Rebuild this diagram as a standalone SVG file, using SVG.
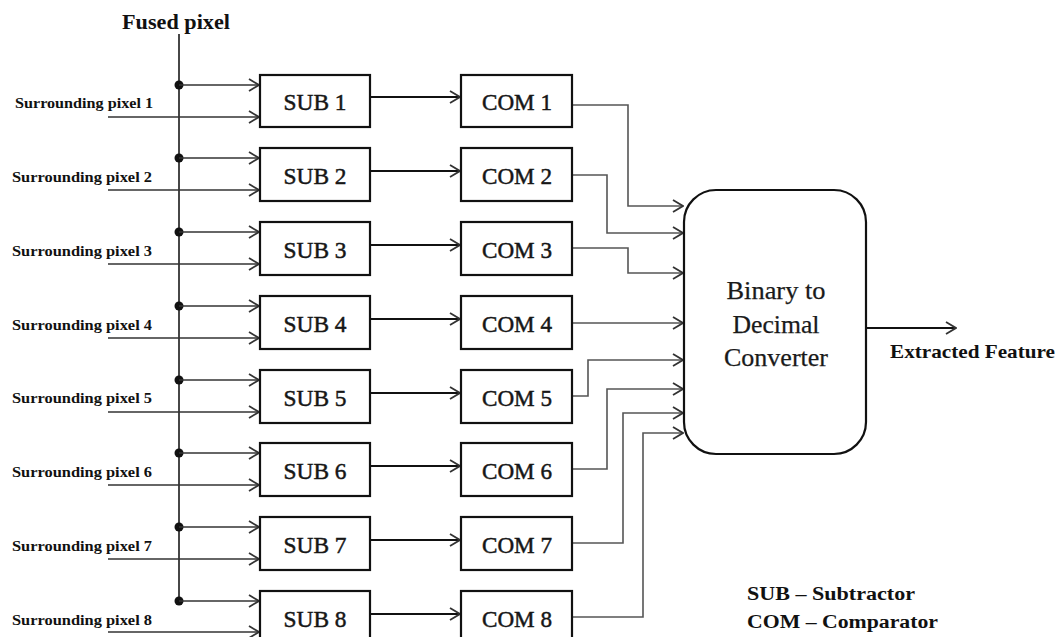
<svg xmlns="http://www.w3.org/2000/svg" width="1060" height="637" viewBox="0 0 1060 637">
<style>
.box{fill:#fff;stroke:#111;stroke-width:2.2}
.bt{font-family:"Liberation Serif","Times New Roman","DejaVu Serif",serif;font-size:24px;fill:#161616;text-anchor:middle;stroke:#161616;stroke-width:0.5}
.ct{font-family:"Liberation Serif","Times New Roman","DejaVu Serif",serif;font-size:25px;fill:#1a1a1a;text-anchor:middle;stroke:#1a1a1a;stroke-width:0.25}
.lbl{font-family:"Liberation Serif","Times New Roman",serif;font-size:15px;font-weight:bold;fill:#111}
.bold{font-family:"Liberation Serif","Times New Roman",serif;font-weight:bold;fill:#111}
.in{fill:none;stroke:#333;stroke-width:1.6;marker-end:url(#ah)}
.sc{fill:none;stroke:#111;stroke-width:2;marker-end:url(#ah)}
.cc{fill:none;stroke:#555;stroke-width:1.6;marker-end:url(#ah)}
.dot{fill:#111}
</style>
<defs>
<marker id="ah" markerUnits="userSpaceOnUse" markerWidth="12" markerHeight="14" refX="11" refY="7" orient="auto">
<path d="M1,1 L11,7 L1,13" fill="none" stroke="#333" stroke-width="1.8"/>
</marker>
</defs>
<rect width="1060" height="637" fill="#fff"/>
<text class="bold" x="122" y="29" font-size="20" textLength="108" lengthAdjust="spacingAndGlyphs">Fused pixel</text>
<g id="connectors">
<line x1="179" y1="34" x2="179" y2="602" stroke="#333" stroke-width="1.8"/>
<circle class="dot" cx="179" cy="85" r="4.5"/><circle class="dot" cx="179" cy="158" r="4.5"/><circle class="dot" cx="179" cy="232" r="4.5"/><circle class="dot" cx="179" cy="306" r="4.5"/><circle class="dot" cx="179" cy="380" r="4.5"/><circle class="dot" cx="179" cy="453" r="4.5"/><circle class="dot" cx="179" cy="527" r="4.5"/><circle class="dot" cx="179" cy="601" r="4.5"/>
<path class="in" d="M179,85 H259"/><path class="in" d="M108,117 H259"/>
<path class="in" d="M179,158 H259"/><path class="in" d="M108,190 H259"/>
<path class="in" d="M179,232 H259"/><path class="in" d="M108,264 H259"/>
<path class="in" d="M179,306 H259"/><path class="in" d="M108,338 H259"/>
<path class="in" d="M179,380 H259"/><path class="in" d="M108,412 H259"/>
<path class="in" d="M179,453 H259"/><path class="in" d="M108,485 H259"/>
<path class="in" d="M179,527 H259"/><path class="in" d="M108,559 H259"/>
<path class="in" d="M179,601 H259"/><path class="in" d="M108,632 H259"/>
<path class="sc" d="M370,97 H460"/>
<path class="sc" d="M370,171 H460"/>
<path class="sc" d="M370,245 H460"/>
<path class="sc" d="M370,319 H460"/>
<path class="sc" d="M370,393 H460"/>
<path class="sc" d="M370,466 H460"/>
<path class="sc" d="M370,540 H460"/>
<path class="sc" d="M370,614 H460"/>
<path class="cc" d="M572,105 H628 V206 H683"/>
<path class="cc" d="M572,175 H607 V233 H683"/>
<path class="cc" d="M572,248 H628 V273 H683"/>
<path class="cc" d="M572,323 H683"/>
<path class="cc" d="M572,396 H588 V360 H683"/>
<path class="cc" d="M572,469 H607 V389 H683"/>
<path class="cc" d="M572,543 H623 V413 H683"/>
<path class="cc" d="M572,617 H643 V433 H683"/>
<path d="M866,328 H956" fill="none" stroke="#111" stroke-width="2" marker-end="url(#ah)"/>
</g>
<g id="labels">
<text class="lbl" x="15" y="108" textLength="138" lengthAdjust="spacingAndGlyphs">Surrounding pixel 1</text>
<text class="lbl" x="12" y="182" textLength="140" lengthAdjust="spacingAndGlyphs">Surrounding pixel 2</text>
<text class="lbl" x="12" y="256" textLength="140" lengthAdjust="spacingAndGlyphs">Surrounding pixel 3</text>
<text class="lbl" x="12" y="330" textLength="140" lengthAdjust="spacingAndGlyphs">Surrounding pixel 4</text>
<text class="lbl" x="12" y="403" textLength="140" lengthAdjust="spacingAndGlyphs">Surrounding pixel 5</text>
<text class="lbl" x="12" y="477" textLength="140" lengthAdjust="spacingAndGlyphs">Surrounding pixel 6</text>
<text class="lbl" x="12" y="551" textLength="140" lengthAdjust="spacingAndGlyphs">Surrounding pixel 7</text>
<text class="lbl" x="12" y="625" textLength="140" lengthAdjust="spacingAndGlyphs">Surrounding pixel 8</text>
</g>
<g id="sub1"><rect class="box" x="260" y="75" width="110" height="52"/><text class="bt" x="315" y="110" textLength="63" lengthAdjust="spacingAndGlyphs">SUB 1</text></g>
<g id="sub2"><rect class="box" x="260" y="148" width="110" height="53"/><text class="bt" x="315" y="184" textLength="63" lengthAdjust="spacingAndGlyphs">SUB 2</text></g>
<g id="sub3"><rect class="box" x="260" y="222" width="110" height="53"/><text class="bt" x="315" y="258" textLength="63" lengthAdjust="spacingAndGlyphs">SUB 3</text></g>
<g id="sub4"><rect class="box" x="260" y="296" width="110" height="53"/><text class="bt" x="315" y="332" textLength="63" lengthAdjust="spacingAndGlyphs">SUB 4</text></g>
<g id="sub5"><rect class="box" x="260" y="370" width="110" height="53"/><text class="bt" x="315" y="406" textLength="63" lengthAdjust="spacingAndGlyphs">SUB 5</text></g>
<g id="sub6"><rect class="box" x="260" y="443" width="110" height="53"/><text class="bt" x="315" y="479" textLength="63" lengthAdjust="spacingAndGlyphs">SUB 6</text></g>
<g id="sub7"><rect class="box" x="260" y="517" width="110" height="53"/><text class="bt" x="315" y="553" textLength="63" lengthAdjust="spacingAndGlyphs">SUB 7</text></g>
<g id="sub8"><rect class="box" x="260" y="591" width="110" height="53"/><text class="bt" x="315" y="627" textLength="63" lengthAdjust="spacingAndGlyphs">SUB 8</text></g>
<g id="com1"><rect class="box" x="461" y="75" width="111" height="52"/><text class="bt" x="517" y="110" textLength="70" lengthAdjust="spacingAndGlyphs">COM 1</text></g>
<g id="com2"><rect class="box" x="461" y="148" width="111" height="53"/><text class="bt" x="517" y="184" textLength="70" lengthAdjust="spacingAndGlyphs">COM 2</text></g>
<g id="com3"><rect class="box" x="461" y="222" width="111" height="53"/><text class="bt" x="517" y="258" textLength="70" lengthAdjust="spacingAndGlyphs">COM 3</text></g>
<g id="com4"><rect class="box" x="461" y="296" width="111" height="53"/><text class="bt" x="517" y="332" textLength="70" lengthAdjust="spacingAndGlyphs">COM 4</text></g>
<g id="com5"><rect class="box" x="461" y="370" width="111" height="53"/><text class="bt" x="517" y="406" textLength="70" lengthAdjust="spacingAndGlyphs">COM 5</text></g>
<g id="com6"><rect class="box" x="461" y="443" width="111" height="53"/><text class="bt" x="517" y="479" textLength="70" lengthAdjust="spacingAndGlyphs">COM 6</text></g>
<g id="com7"><rect class="box" x="461" y="517" width="111" height="53"/><text class="bt" x="517" y="553" textLength="70" lengthAdjust="spacingAndGlyphs">COM 7</text></g>
<g id="com8"><rect class="box" x="461" y="591" width="111" height="53"/><text class="bt" x="517" y="627" textLength="70" lengthAdjust="spacingAndGlyphs">COM 8</text></g>
<g id="converter">
<rect class="box" x="684" y="190" width="182" height="264" rx="32" ry="32"/>
<text class="ct" x="776" y="299" textLength="99" lengthAdjust="spacingAndGlyphs">Binary to</text>
<text class="ct" x="776" y="333" textLength="87" lengthAdjust="spacingAndGlyphs">Decimal</text>
<text class="ct" x="776" y="366" textLength="104" lengthAdjust="spacingAndGlyphs">Converter</text>
</g>
<g id="output">
<text class="bold" x="890" y="358" font-size="19" textLength="165" lengthAdjust="spacingAndGlyphs">Extracted Feature</text>
</g>
<g id="legend">
<text class="bold" x="747" y="600" font-size="18" textLength="168" lengthAdjust="spacingAndGlyphs">SUB – Subtractor</text>
<text class="bold" x="747" y="628" font-size="18" textLength="191" lengthAdjust="spacingAndGlyphs">COM – Comparator</text>
</g>
</svg>
